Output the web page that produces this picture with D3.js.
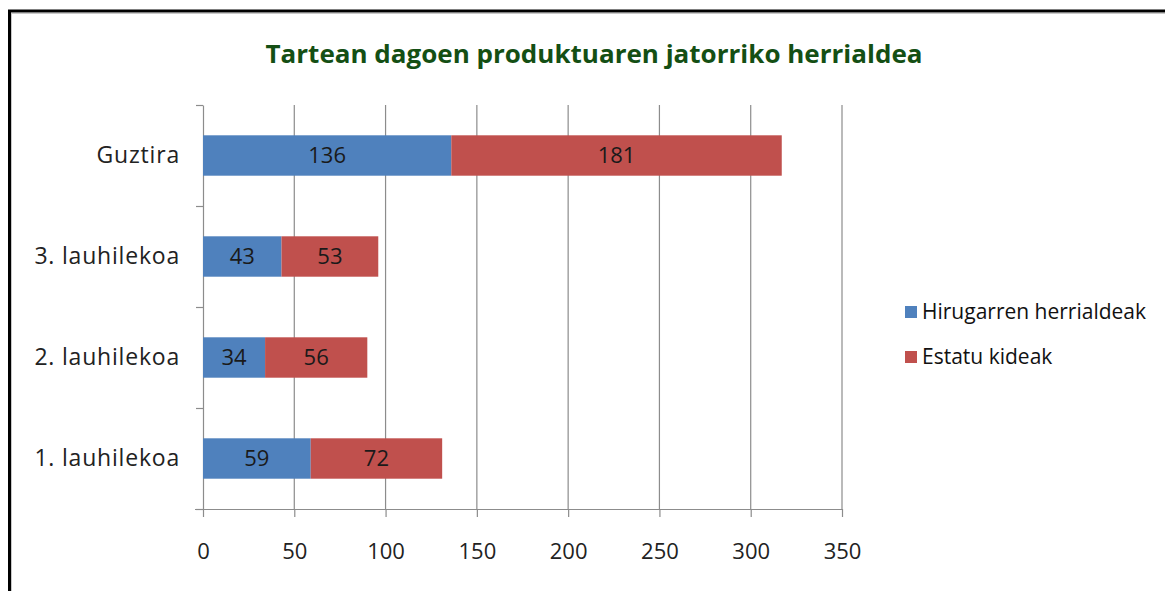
<!DOCTYPE html>
<html>
<head>
<meta charset="utf-8">
<script src="https://cdn.jsdelivr.net/npm/d3@7"></script>
<style>
  body { margin: 0; background: #fff; }
  text { font-family: "Open Sans", "Liberation Sans", sans-serif; }
</style>
</head>
<body>
<svg id="vis"></svg>
<script>
const WIDTH = 1165;
const HEIGHT = 591;

// datos
const categorias = ["Guztira", "3. lauhilekoa", "2. lauhilekoa", "1. lauhilekoa"];
const hirugarren = [136, 43, 34, 59];
const estatu = [181, 53, 56, 72];
const series = ["Hirugarren herrialdeak", "Estatu kideak"];
const colores = ["#4f81bd", "#c0504d"];
const ticksX = [0, 50, 100, 150, 200, 250, 300, 350];

const svg = d3.select("#vis")
    .attr("width", WIDTH)
    .attr("height", HEIGHT);

// marco del grafico (solo se ven los bordes izquierdo y superior)
svg.append("rect")
    .attr("x", 11.5).attr("y", 13.5)
    .attr("width", WIDTH + 20).attr("height", HEIGHT + 20)
    .attr("fill", "none").attr("stroke", "#c8c8c8").attr("stroke-width", 1);
svg.append("rect")
    .attr("x", 9.5).attr("y", 11)
    .attr("width", WIDTH + 20).attr("height", HEIGHT + 20)
    .attr("fill", "none").attr("stroke", "#000").attr("stroke-width", 3);

const escalaX = d3.scaleLinear()
    .domain([0, 350])
    .range([203, 842]);

const escalaY = d3.scaleBand()
    .domain(categorias)
    .range([105, 509])
    .paddingInner(0.6)
    .paddingOuter(0.3);

// escala auxiliar para las marcas entre categorias
const escalaMarcas = d3.scaleLinear()
    .domain([0, categorias.length])
    .range([509, 105]);

// lineas de grilla verticales
svg.append("g")
    .selectAll("line")
    .data(ticksX.slice(1))
    .join("line")
    .attr("x1", d => escalaX(d)).attr("x2", d => escalaX(d))
    .attr("y1", 105).attr("y2", 509)
    .attr("stroke", "#8c8c8c").attr("stroke-width", 1.2);

// eje x
const ejeX = d3.axisBottom(escalaX)
    .tickValues(ticksX)
    .tickSize(8)
    .tickSizeOuter(0)
    .tickPadding(26);
const gX = svg.append("g")
    .attr("transform", `translate(0, 509)`)
    .call(ejeX);
gX.select(".domain").attr("d", `M195,0.5H${escalaX(350)}`).attr("stroke", "#8c8c8c").attr("stroke-width", 1.2);
gX.selectAll(".tick line").attr("stroke", "#8c8c8c").attr("stroke-width", 1.2);
gX.selectAll(".tick text")
    .attr("fill", "#222")
    .style("font-size", "22px")
    .style("font-family", "'Open Sans', sans-serif");

// eje y
const ejeY = d3.axisLeft(escalaMarcas)
    .tickValues(d3.range(categorias.length + 1))
    .tickSize(7)
    .tickSizeOuter(0)
    .tickFormat("");
const gY = svg.append("g")
    .attr("transform", `translate(203, 0)`)
    .call(ejeY);
gY.select(".domain").attr("stroke", "#8c8c8c").attr("stroke-width", 1.2);
gY.selectAll(".tick line").attr("stroke", "#8c8c8c").attr("stroke-width", 1.2);

// etiquetas de categoria
svg.append("g")
    .selectAll("text")
    .data(categorias)
    .join("text")
    .attr("x", 180)
    .attr("y", d => escalaY(d) + escalaY.bandwidth() / 2)
    .attr("dy", "0.32em")
    .attr("text-anchor", "end")
    .attr("fill", "#222")
    .style("font-size", "23px")
    .style("letter-spacing", "0.8px")
    .text(d => d);

// barras apiladas
const datos = categorias.map((c, i) => ({ cat: c, valores: [hirugarren[i], estatu[i]] }));
const segmentos = [];
datos.forEach(d => {
    let acum = 0;
    d.valores.forEach((v, s) => {
        segmentos.push({ cat: d.cat, serie: s, x0: acum, x1: acum + v, valor: v });
        acum += v;
    });
});

svg.append("g")
    .selectAll("rect")
    .data(segmentos)
    .join("rect")
    .attr("x", d => escalaX(d.x0))
    .attr("y", d => escalaY(d.cat))
    .attr("width", d => escalaX(d.x1) - escalaX(d.x0))
    .attr("height", escalaY.bandwidth())
    .attr("fill", d => colores[d.serie]);

svg.append("g")
    .selectAll("text")
    .data(segmentos)
    .join("text")
    .attr("x", d => (escalaX(d.x0) + escalaX(d.x1)) / 2)
    .attr("y", d => escalaY(d.cat) + escalaY.bandwidth() / 2)
    .attr("dy", "0.36em")
    .attr("text-anchor", "middle")
    .attr("fill", "#1a1a1a")
    .style("font-size", "22px")
    .text(d => d.valor);

// titulo
svg.append("text")
    .attr("x", 594)
    .attr("y", 63)
    .attr("text-anchor", "middle")
    .attr("fill", "#144f14")
    .attr("textLength", 657)
    .attr("lengthAdjust", "spacingAndGlyphs")
    .style("font-size", "25px")
    .style("font-weight", "bold")
    .text("Tartean dagoen produktuaren jatorriko herrialdea");

// leyenda
const leyenda = svg.append("g")
    .selectAll("g")
    .data(series)
    .join("g")
    .attr("transform", (d, i) => `translate(905, ${312 + i * 45})`);
leyenda.append("rect")
    .attr("x", 0).attr("y", -6)
    .attr("width", 12).attr("height", 12)
    .attr("fill", (d, i) => colores[i]);
leyenda.append("text")
    .attr("x", 17)
    .attr("dy", "0.35em")
    .attr("fill", "#111")
    .style("font-size", "21px")
    .text(d => d);
</script>
</body>
</html>
